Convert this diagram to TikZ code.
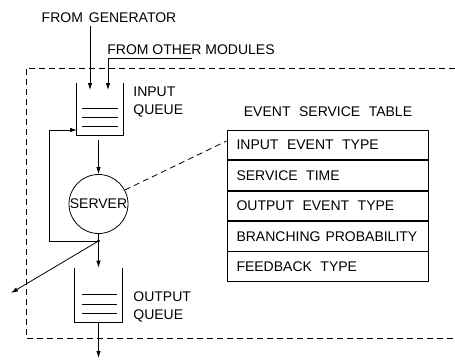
\documentclass[tikz,border=0pt]{standalone}
\usepackage{fontspec}
\setmainfont{Liberation Sans}
\usetikzlibrary{arrows.meta,calc}
\newcommand{\wsp}{\hspace{8.5pt}}
\begin{document}
\begin{tikzpicture}[x=1pt,y=-1pt,
  line width=0.8pt,
  txt/.style={font=\fontsize{14}{16}\selectfont, inner sep=0pt},
  arr/.style={-{Latex[length=7pt,width=4.5pt]}},
  qbox/.style={minimum width=46pt, minimum height=52pt, inner sep=0pt},
  row/.style={draw, minimum width=201pt, minimum height=29.6pt, inner sep=0pt, text width=182pt, align=left, font=\fontsize{14}{16}\selectfont},
  dsh/.style={dash pattern=on 6pt off 4pt}]
\useasboundingbox (0,0) rectangle (455,359);
% texts
\node[txt] (gen) at (109,18) {FROM\hspace{6pt}GENERATOR};
\node[txt, anchor=west] (oth) at (107,50) {FROM OTHER MODULES};
% input queue
\node[qbox] (iq) at (100,109) {};
\draw (iq.north west) -- (iq.south west) -- (iq.south east) -- (iq.north east);
\foreach \y in {108,117,126} \draw (82,\y) -- (118,\y);
\node[txt, anchor=north west, align=left] (iql) at (133,86) {INPUT\\[2pt]QUEUE};
% server
\node[draw, circle, minimum size=59pt, inner sep=0pt, font=\fontsize{14}{16}\selectfont] (srv) at (98.5,204) {SERVER};
% output queue
\node[qbox, minimum width=47pt, minimum height=54pt] (oq) at (98.5,295) {};
\draw (oq.north west) -- (oq.south west) -- (oq.south east) -- (oq.north east);
\foreach \y in {294,304,313} \draw (82,\y) -- (117,\y);
\node[txt, anchor=north west, align=left] (oql) at (133,291) {OUTPUT\\[2pt]QUEUE};
% table
\node[txt] (tt) at (328,112) {EVENT\wsp SERVICE\wsp TABLE};
\node[row] (r1) at (327.5,145) {\mbox{INPUT\wsp EVENT\wsp TYPE}};
\node[row, anchor=north] (r2) at (r1.south) {\mbox{SERVICE\wsp TIME}};
\node[row, anchor=north] (r3) at (r2.south) {\mbox{OUTPUT\wsp EVENT\wsp TYPE}};
\node[row, anchor=north] (r4) at (r3.south) {\mbox{BRANCHING\hspace{5pt}PROBABILITY}};
\node[row, anchor=north] (r5) at (r4.south) {\mbox{FEEDBACK\wsp TYPE}};
% dashed module boundary
\draw[dsh] (455,68) -- (26,68) -- (26,338) -- (455,338);
% dashed link
\draw[dsh] (srv.28) -- ($(r1.west)+(0,-4)$);
% connectors
\coordinate (g1) at (90,26);
\coordinate (g2) at (90,90);
\draw[arr] (g1) -- (g2);
\coordinate (o1) at (192,58);
\coordinate (o2) at (108,58);
\coordinate (o3) at (108,90);
\draw[arr] (o1) -- (o2) -- (o3);
\coordinate (q1) at (98.5,140);
\draw[arr] (q1) -- (srv.north);
\coordinate (j) at (98.5,241);
\draw[arr] (srv.south) -- (oq.north);
\fill (j) circle (1.6pt);
\coordinate (f1) at (49,241);
\coordinate (f2) at (49,130);
\coordinate (f3) at (77,130);
\draw[arr] (j) -- (f1) -- (f2) -- (f3);
\coordinate (d1) at (11,293);
\draw[arr] (j) -- (d1);
\coordinate (b1) at (98.5,358);
\draw[arr] (oq.south) -- (b1);
\end{tikzpicture}
\end{document}
